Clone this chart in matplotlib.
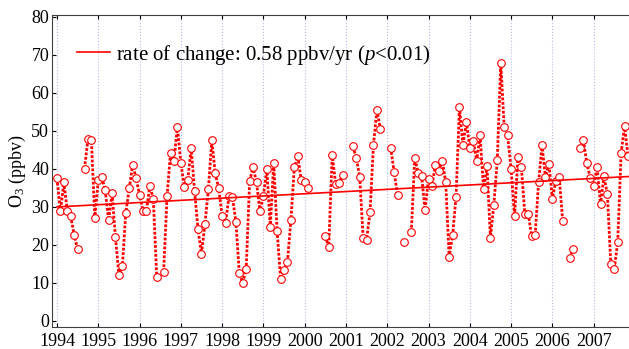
import numpy as np
import matplotlib
matplotlib.use("Agg")
import matplotlib.pyplot as plt

plt.rcParams['font.family'] = ['Liberation Serif', 'DejaVu Serif']
plt.rcParams['mathtext.fontset'] = 'custom'
plt.rcParams['mathtext.rm'] = 'Liberation Serif'
plt.rcParams['mathtext.it'] = 'Liberation Serif:italic'

# monthly mean O3 (ppbv), Jan..Dec, None = no data
o3_1994 = [37.5, 28.8, 36.5, 28.9, 27.5, 22.6, 18.8, None, 40.1, 47.9, 47.7, 27.0]
o3_1995 = [37.0, 37.9, 34.5, 26.5, 33.6, 22.0, 12.1, 14.5, 28.5, 34.9, 41.1, 37.5]
o3_1996 = [33.2, 29.0, 29.0, 35.6, 32.0, 11.5, None, 13.0, 32.9, 44.3, 42.2, 51.1]
o3_1997 = [41.6, 35.2, 37.0, 45.5, 34.2, 24.1, 17.7, 25.4, 34.6, 47.5, 38.9, 34.9]
o3_1998 = [27.7, 25.7, 32.9, 32.6, 26.1, 12.5, 10.1, 13.7, 36.8, 40.5, 36.5, 28.8]
o3_1999 = [32.9, 40.0, 24.7, 41.6, 23.6, 11.0, 13.3, 15.6, 26.6, 40.4, 43.3, 37.0]
o3_2000 = [36.6, 34.9, None, None, None, None, 22.3, 19.5, 43.7, 36.1, 36.4, 38.4]
o3_2001 = [None, None, 45.9, 43.0, 37.9, 21.9, 21.4, 28.6, 46.3, 55.6, 50.6, None]
o3_2002 = [None, 45.6, 39.2, 33.1, None, 20.8, None, 23.4, 42.9, 39.0, 38.1, 29.2]
o3_2003 = [37.4, 35.5, 41.0, 39.4, 42.2, 36.5, 16.9, 22.5, 32.6, 56.3, 46.2, 52.4]
o3_2004 = [45.6, 47.4, 42.2, 48.9, 34.6, 40.7, 21.9, 30.6, 42.4, 68.0, 51.1, 48.8]
o3_2005 = [40.1, 27.5, 43.1, 40.4, 28.1, 28.1, 22.3, 22.5, 36.5, 46.2, 37.8, 41.4]
o3_2006 = [32.2, 36.8, 37.9, 26.4, None, 16.5, 18.9, None, 45.5, 47.6, 41.6, 37.7]
o3_2007 = [35.5, 40.4, 30.7, 38.1, 33.3, 14.9, 13.6, 20.8, 44.2, 51.3, 43.3, None]

years = list(range(1994, 2008))
trend_x = [1994.0, 2007.86]
trend_y = [30.0, 38.0]

monthly = [o3_1994, o3_1995, o3_1996, o3_1997, o3_1998, o3_1999, o3_2000,
           o3_2001, o3_2002, o3_2003, o3_2004, o3_2005, o3_2006, o3_2007]
vals = np.array([np.nan if v is None else v for yr in monthly for v in yr])
t = np.array([y + m / 12.0 for y in years for m in range(12)])

fig = plt.figure(figsize=(6.29, 3.49), dpi=100)
ax = fig.add_axes([52 / 629, 22 / 349, 1 - 52 / 629, 312 / 349])

ax.plot(t, vals, color='red', linestyle=(0, (1, 0.6)), linewidth=2.0,
        marker='o', markersize=5.5, markerfacecolor='white',
        markeredgecolor='red', markeredgewidth=0.8, zorder=3)
ax.plot(trend_x, trend_y, color='red', linewidth=1.2, zorder=4,
        label='rate of change: 0.58 ppbv/yr ($\\it{p}$<0.01)')

ax.set_xlim(1993.879, 2007.857)
ax.set_ylim(-1.6, 80.5)
ax.set_xticks(years)
ax.set_yticks(range(0, 81, 10))
ax.tick_params(direction='in', labelsize=13, top=True, length=3)
ax.tick_params(axis='x', pad=4)
ax.tick_params(axis='y', pad=2)
ax.xaxis.grid(True, color='#b8b8f0', linestyle=':', linewidth=0.8)
ax.spines['right'].set_visible(False)
for s in ['left', 'top', 'bottom']:
    ax.spines[s].set_color('#404040')
ax.set_ylabel('O$_3$ (ppbv)', fontsize=13, labelpad=2)

leg = ax.legend(loc='center left', bbox_to_anchor=(0.043, 0.873), frameon=False,
                fontsize=15, handlelength=1.6, handletextpad=0.3,
                borderaxespad=0, borderpad=0)

fig.savefig('out.png', dpi=100)
